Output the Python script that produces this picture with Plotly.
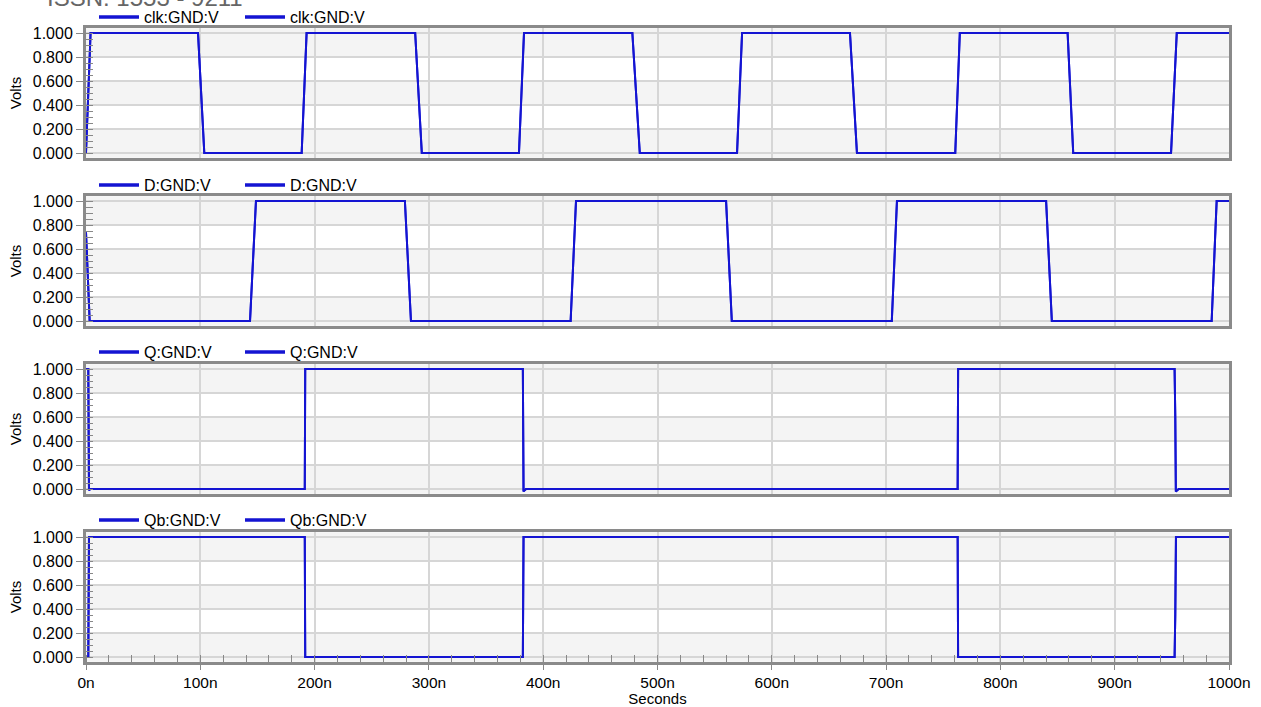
import plotly.graph_objects as go

# ---- data (time in ns, voltage in V) ----
t_clk = [0, 4, 98, 103.5, 188.7, 193, 288, 293.8, 378.8, 383.2, 478, 484.5, 569.6, 574, 668.4, 674.5, 760.5, 764.5, 858.8, 863.7, 949.3, 954.3, 1000]
v_clk = [0, 1, 1, 0, 0, 1, 1, 0, 0, 1, 1, 0, 0, 1, 1, 0, 0, 1, 1, 0, 0, 1, 1]

t_d = [0, 1.5, 3.2, 143.5, 148.7, 279, 284.3, 424, 428.7, 560, 565, 705, 709.5, 840, 845, 984.8, 989.2, 1000]
v_d = [0.74, 0.4, 0, 0, 1, 1, 0, 0, 1, 1, 0, 0, 1, 1, 0, 0, 1, 1]

t_q = [0, 2.0, 2.6, 4, 191.4, 191.8, 382.2, 382.8, 385, 762.6, 763.0, 952.4, 953.0, 953.5, 956, 1000]
v_q = [1, 1, -0.01, 0, 0, 1, 1, -0.02, 0, 0, 1, 1, 0.6, -0.02, 0, 0]

t_qb = [0, 2.0, 2.6, 191.4, 191.8, 382.2, 382.8, 762.6, 763.0, 952.4, 953.0, 953.6, 1000]
v_qb = [0, 0, 1, 1, 0, 0, 1, 1, 0, 0, 0.35, 1, 1]

names = ["clk:GND:V", "D:GND:V", "Q:GND:V", "Qb:GND:V"]
series_t = [t_clk, t_d, t_q, t_qb]
series_v = [v_clk, v_d, v_q, v_qb]

x_ticks = [0, 100, 200, 300, 400, 500, 600, 700, 800, 900, 1000]
x_tick_text = ["0n", "100n", "200n", "300n", "400n", "500n", "600n", "700n", "800n", "900n", "1000n"]
y_ticks = [0, 0.2, 0.4, 0.6, 0.8, 1.0]

# ---- layout geometry ----
W, H = 1261, 707
FONT = "Liberation Sans, Arial, sans-serif"
LINE = "#1414d2"
YR = [-0.04, 1.04]
x0, x1 = 86, 1229
panel_top_px = [28.2, 196.2, 364.2, 532.2]
panel_h_px = 129.6
legend_y_px = [17, 185, 352, 520]

def py(px):
    return 1 - px / H

fig = go.Figure()
layout = dict(
    width=W, height=H,
    margin=dict(l=0, r=0, t=0, b=0),
    paper_bgcolor="white",
    plot_bgcolor="#f4f4f4",
    font=dict(family=FONT, size=15, color="black"),
    showlegend=True,
)

shapes = []
for i in range(4):
    k = "" if i == 0 else str(i + 1)
    xa, ya = "x" + k, "y" + k
    leg = "legend" + k
    # two identical probes of the same node, as in the simulator output
    for rep in range(2):
        fig.add_trace(go.Scatter(
            x=series_t[i], y=series_v[i], mode="lines", name=names[i],
            line=dict(color=LINE, width=2), xaxis=xa, yaxis=ya,
            showlegend=False, hoverinfo="skip",
        ))
    # legend keys (thicker line, as drawn by the simulator)
    for rep in range(2):
        fig.add_trace(go.Scatter(
            x=[None], y=[None], mode="lines", name=names[i],
            line=dict(color=LINE, width=3.5), xaxis=xa, yaxis=ya, legend=leg,
            hoverinfo="skip",
        ))
    top = panel_top_px[i]
    bot = top + panel_h_px
    bottom_panel = (i == 3)
    layout["xaxis" + k] = dict(
        domain=[x0 / W, x1 / W], anchor=ya, range=[0, 1000],
        showline=True, mirror=True, linecolor="#8a8a8a", linewidth=3,
        showgrid=True, gridcolor="#d6d6d6", gridwidth=1.5,
        tickvals=x_ticks, ticktext=x_tick_text if bottom_panel else [""] * len(x_ticks),
        ticks="outside" if bottom_panel else "", ticklen=5, tickcolor="#888",
        tickfont=dict(size=15.5),
        zeroline=False, fixedrange=True,
        minor=dict(dtick=20, ticks="inside" if bottom_panel else "", ticklen=7, tickcolor="#888", showgrid=False),
        title=dict(text="Seconds" if bottom_panel else "", font=dict(size=15), standoff=4),
        automargin=False,
    )
    if i > 0:
        layout["xaxis" + k]["matches"] = "x"
    layout["yaxis" + k] = dict(
        domain=[py(bot), py(top)], anchor=xa, range=YR,
        showline=True, mirror=True, linecolor="#8a8a8a", linewidth=3,
        showgrid=True, gridcolor="#d6d6d6", gridwidth=1.5,
        tickvals=y_ticks, tickformat=".3f",
        ticks="outside", ticklen=7, tickcolor="#888",
        tickfont=dict(size=16),
        zeroline=False, fixedrange=True,
        minor=dict(dtick=0.05, tick0=0, ticks="inside", ticklen=7, tickcolor="#888", showgrid=False),
        title=dict(text="Volts", font=dict(size=15), standoff=8),
        automargin=False,
    )
    for (a, b) in [(0.6, 0.8), (0.2, 0.4)]:
        shapes.append(dict(type="rect", xref=xa, yref=ya, x0=0, x1=1000, y0=a, y1=b,
                           fillcolor="white", line=dict(width=0), layer="below"))
    layout[leg] = dict(
        orientation="h", x=94 / W, xanchor="left", y=py(legend_y_px[i]), yanchor="middle",
        bgcolor="rgba(0,0,0,0)", font=dict(size=16, family=FONT),
        entrywidth=91, entrywidthmode="pixels", itemwidth=40,
        tracegroupgap=0,
    )

layout["shapes"] = shapes
layout["annotations"] = [dict(
    text="ISSN: 1553 - 9211", xref="paper", yref="paper", x=45 / W, y=py(13),
    xanchor="left", yanchor="bottom", showarrow=False,
    font=dict(size=24, color="#666", family=FONT),
)]
fig.update_layout(**layout)
fig.write_html("out.html", config={"displayModeBar": False},
               post_script="document.body.style.margin='0';document.body.style.padding='0';")
